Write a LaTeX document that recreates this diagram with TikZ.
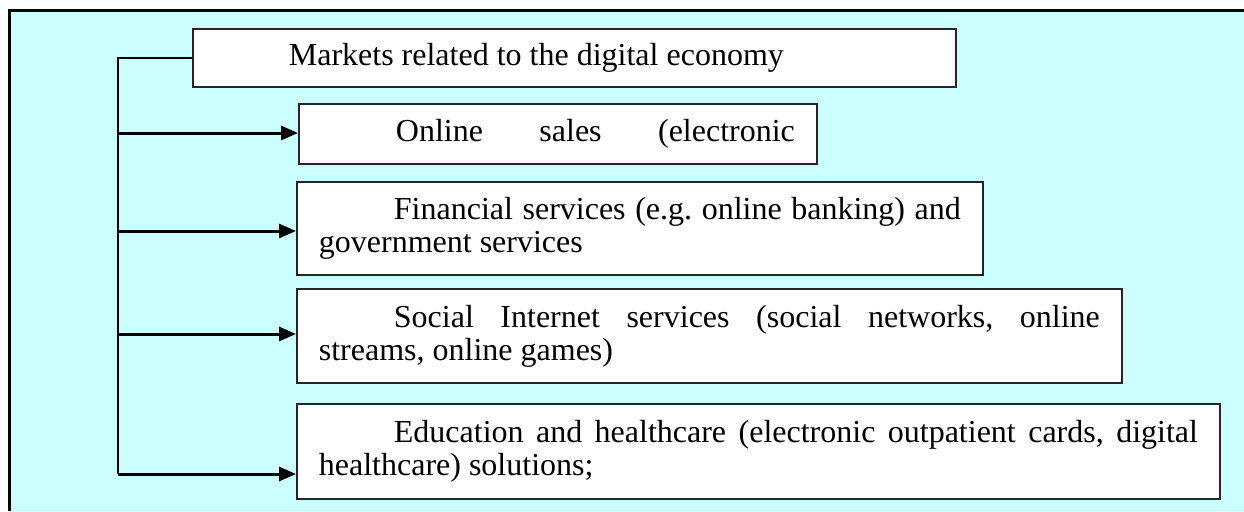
\documentclass[tikz,border=0pt]{standalone}
\usepackage{fontspec}
\setmainfont{Liberation Serif}
\usetikzlibrary{arrows.meta}
\definecolor{panelcyan}{HTML}{CCFFFF}

\tikzset{
	panel/.style={line width=3pt},
	textbox/.style={draw=black!85, line width=1.8pt, fill=white, anchor=north west,
		inner xsep=22pt, inner ysep=0pt, align=justify, font=\fontsize{32}{33}\selectfont\frenchspacing},
	bus/.style={line width=2.5pt},
	feed/.style={line width=3pt, -{Triangle[length=17pt,width=14pt]}},
}

\begin{document}
\begin{tikzpicture}[x=1pt, y=-1pt]
	\useasboundingbox (0,0) rectangle (1244,511);
	\fill[panelcyan] (9,11) rectangle (1244,511);
	\draw[panel] (9,511) -- (9,11) -- (1244,11);

	\node[textbox, text width=719pt, minimum height=58pt] (head) at (192,28) {\hspace*{74pt}Markets related to the digital economy};
	\node[textbox, text width=474pt, minimum height=60pt] (b1) at (298,103) {\hspace*{75pt}Online\hfill sales\hfill (electronic};
	\node[textbox, text width=642pt, minimum height=93pt] (b2) at (296,181) {\hspace*{75pt}Financial services (e.g. online banking) and\linebreak government services};
	\node[textbox, text width=781pt, minimum height=94pt] (b3) at (296,288) {\hspace*{75pt}Social Internet services (social networks, online\linebreak streams, online games)};
	\node[textbox, text width=879pt, minimum height=95pt] (b4) at (296,403) {\hspace*{75pt}Education and healthcare (electronic outpatient cards, digital\linebreak healthcare) solutions;};

	\coordinate (j1) at (118,133);
	\coordinate (j2) at (118,231);
	\coordinate (j3) at (118,334);
	\coordinate (j4) at (118,474);

	\draw[bus] (head.west) -- (head.west -| j4) -- (j4);
	\foreach \j/\b in {j1/b1, j2/b2, j3/b3, j4/b4}
		\draw[feed] (\j) -- (\j -| \b.west);
\end{tikzpicture}
\end{document}
